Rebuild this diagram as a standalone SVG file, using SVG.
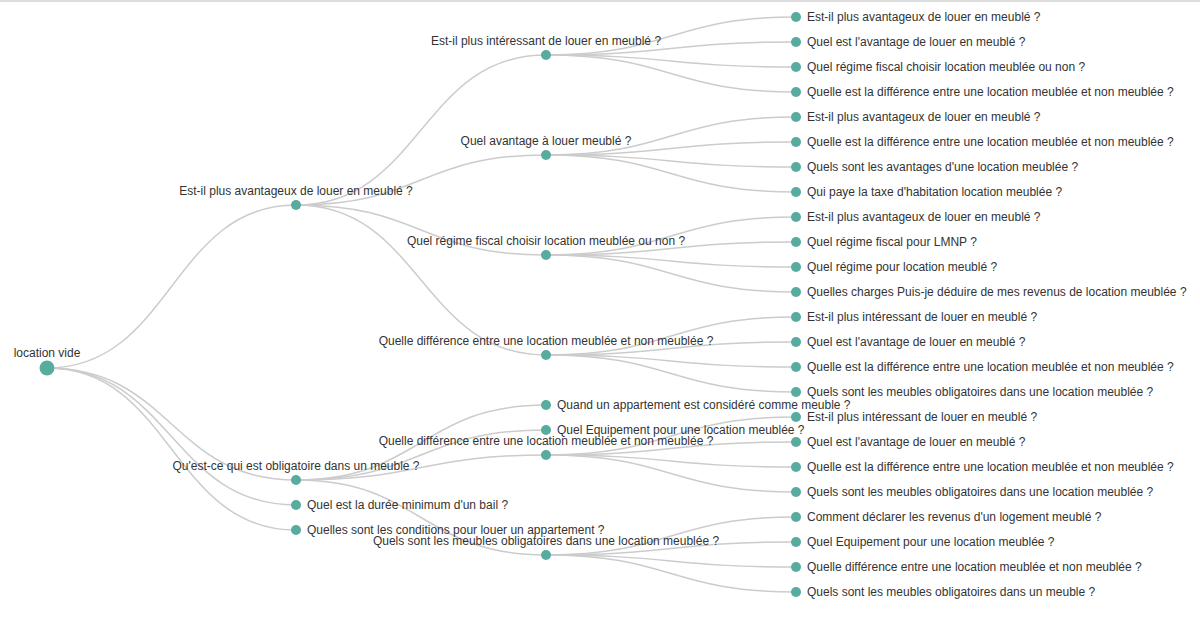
<svg xmlns="http://www.w3.org/2000/svg" width="1200" height="619" viewBox="0 0 1200 619">
<style>
.link{fill:none;stroke:#cccccc;stroke-width:1.5}
.node circle{fill:#57ab9f}
.node text{font-family:"Liberation Sans",Arial,sans-serif;font-size:12px;fill:#333}
.p text{text-anchor:middle}
</style>
<rect x="0" y="0" width="1200" height="619" fill="#fff"/>
<line x1="0" y1="1" x2="1200" y2="1" stroke="#dddddd" stroke-width="2"/>
<g id="links">
<path class="link" d="M47,368C171.5,368 171.5,205 296,205"/>
<path class="link" d="M47,368C171.5,368 171.5,480 296,480"/>
<path class="link" d="M47,368C171.5,368 171.5,505 296,505"/>
<path class="link" d="M47,368C171.5,368 171.5,530 296,530"/>
<path class="link" d="M296,205C421,205 421,55 546,55"/>
<path class="link" d="M296,205C421,205 421,155 546,155"/>
<path class="link" d="M296,205C421,205 421,255 546,255"/>
<path class="link" d="M296,205C421,205 421,355 546,355"/>
<path class="link" d="M296,480C421,480 421,405 546,405"/>
<path class="link" d="M296,480C421,480 421,430 546,430"/>
<path class="link" d="M296,480C421,480 421,455 546,455"/>
<path class="link" d="M296,480C421,480 421,555 546,555"/>
<path class="link" d="M546,55C671,55 671,17 796,17"/>
<path class="link" d="M546,55C671,55 671,42 796,42"/>
<path class="link" d="M546,55C671,55 671,67 796,67"/>
<path class="link" d="M546,55C671,55 671,92 796,92"/>
<path class="link" d="M546,155C671,155 671,117 796,117"/>
<path class="link" d="M546,155C671,155 671,142 796,142"/>
<path class="link" d="M546,155C671,155 671,167 796,167"/>
<path class="link" d="M546,155C671,155 671,192 796,192"/>
<path class="link" d="M546,255C671,255 671,217 796,217"/>
<path class="link" d="M546,255C671,255 671,242 796,242"/>
<path class="link" d="M546,255C671,255 671,267 796,267"/>
<path class="link" d="M546,255C671,255 671,292 796,292"/>
<path class="link" d="M546,355C671,355 671,317 796,317"/>
<path class="link" d="M546,355C671,355 671,342 796,342"/>
<path class="link" d="M546,355C671,355 671,367 796,367"/>
<path class="link" d="M546,355C671,355 671,392 796,392"/>
<path class="link" d="M546,455C671,455 671,417 796,417"/>
<path class="link" d="M546,455C671,455 671,442 796,442"/>
<path class="link" d="M546,455C671,455 671,467 796,467"/>
<path class="link" d="M546,455C671,455 671,492 796,492"/>
<path class="link" d="M546,555C671,555 671,517 796,517"/>
<path class="link" d="M546,555C671,555 671,542 796,542"/>
<path class="link" d="M546,555C671,555 671,567 796,567"/>
<path class="link" d="M546,555C671,555 671,592 796,592"/>
</g>
<g id="root" class="node p"><circle cx="47" cy="368" r="7.5"/><text x="47" y="357">location vide</text></g>
<g id="n-a" class="node p"><circle cx="296" cy="205" r="5"/><text x="296" y="195">Est-il plus avantageux de louer en meublé ?</text></g>
<g id="n-b" class="node p"><circle cx="296" cy="480" r="5"/><text x="296" y="470">Qu'est-ce qui est obligatoire dans un meuble ?</text></g>
<g id="n-c" class="node"><circle cx="296" cy="505" r="5"/><text x="307" y="509">Quel est la durée minimum d'un bail ?</text></g>
<g id="n-d" class="node"><circle cx="296" cy="530" r="5"/><text x="307" y="534">Quelles sont les conditions pour louer un appartement ?</text></g>
<g id="n-a1" class="node p"><circle cx="546" cy="55" r="5"/><text x="546" y="45">Est-il plus intéressant de louer en meublé ?</text></g>
<g id="n-a2" class="node p"><circle cx="546" cy="155" r="5"/><text x="546" y="145">Quel avantage à louer meublé ?</text></g>
<g id="n-a3" class="node p"><circle cx="546" cy="255" r="5"/><text x="546" y="245">Quel régime fiscal choisir location meublée ou non ?</text></g>
<g id="n-a4" class="node p"><circle cx="546" cy="355" r="5"/><text x="546" y="345">Quelle différence entre une location meublée et non meublée ?</text></g>
<g id="n-b1" class="node"><circle cx="546" cy="405" r="5"/><text x="557" y="409">Quand un appartement est considéré comme meuble ?</text></g>
<g id="n-b2" class="node"><circle cx="546" cy="430" r="5"/><text x="557" y="434">Quel Equipement pour une location meublée ?</text></g>
<g id="n-b3" class="node p"><circle cx="546" cy="455" r="5"/><text x="546" y="445">Quelle différence entre une location meublée et non meublée ?</text></g>
<g id="n-b4" class="node p"><circle cx="546" cy="555" r="5"/><text x="546" y="545">Quels sont les meubles obligatoires dans une location meublée ?</text></g>
<g id="n-a1-1" class="node"><circle cx="796" cy="17" r="5"/><text x="807" y="21">Est-il plus avantageux de louer en meublé ?</text></g>
<g id="n-a1-2" class="node"><circle cx="796" cy="42" r="5"/><text x="807" y="46">Quel est l'avantage de louer en meublé ?</text></g>
<g id="n-a1-3" class="node"><circle cx="796" cy="67" r="5"/><text x="807" y="71">Quel régime fiscal choisir location meublée ou non ?</text></g>
<g id="n-a1-4" class="node"><circle cx="796" cy="92" r="5"/><text x="807" y="96">Quelle est la différence entre une location meublée et non meublée ?</text></g>
<g id="n-a2-1" class="node"><circle cx="796" cy="117" r="5"/><text x="807" y="121">Est-il plus avantageux de louer en meublé ?</text></g>
<g id="n-a2-2" class="node"><circle cx="796" cy="142" r="5"/><text x="807" y="146">Quelle est la différence entre une location meublée et non meublée ?</text></g>
<g id="n-a2-3" class="node"><circle cx="796" cy="167" r="5"/><text x="807" y="171">Quels sont les avantages d'une location meublée ?</text></g>
<g id="n-a2-4" class="node"><circle cx="796" cy="192" r="5"/><text x="807" y="196">Qui paye la taxe d'habitation location meublée ?</text></g>
<g id="n-a3-1" class="node"><circle cx="796" cy="217" r="5"/><text x="807" y="221">Est-il plus avantageux de louer en meublé ?</text></g>
<g id="n-a3-2" class="node"><circle cx="796" cy="242" r="5"/><text x="807" y="246">Quel régime fiscal pour LMNP ?</text></g>
<g id="n-a3-3" class="node"><circle cx="796" cy="267" r="5"/><text x="807" y="271">Quel régime pour location meublé ?</text></g>
<g id="n-a3-4" class="node"><circle cx="796" cy="292" r="5"/><text x="807" y="296">Quelles charges Puis-je déduire de mes revenus de location meublée ?</text></g>
<g id="n-a4-1" class="node"><circle cx="796" cy="317" r="5"/><text x="807" y="321">Est-il plus intéressant de louer en meublé ?</text></g>
<g id="n-a4-2" class="node"><circle cx="796" cy="342" r="5"/><text x="807" y="346">Quel est l'avantage de louer en meublé ?</text></g>
<g id="n-a4-3" class="node"><circle cx="796" cy="367" r="5"/><text x="807" y="371">Quelle est la différence entre une location meublée et non meublée ?</text></g>
<g id="n-a4-4" class="node"><circle cx="796" cy="392" r="5"/><text x="807" y="396">Quels sont les meubles obligatoires dans une location meublée ?</text></g>
<g id="n-b3-1" class="node"><circle cx="796" cy="417" r="5"/><text x="807" y="421">Est-il plus intéressant de louer en meublé ?</text></g>
<g id="n-b3-2" class="node"><circle cx="796" cy="442" r="5"/><text x="807" y="446">Quel est l'avantage de louer en meublé ?</text></g>
<g id="n-b3-3" class="node"><circle cx="796" cy="467" r="5"/><text x="807" y="471">Quelle est la différence entre une location meublée et non meublée ?</text></g>
<g id="n-b3-4" class="node"><circle cx="796" cy="492" r="5"/><text x="807" y="496">Quels sont les meubles obligatoires dans une location meublée ?</text></g>
<g id="n-b4-1" class="node"><circle cx="796" cy="517" r="5"/><text x="807" y="521">Comment déclarer les revenus d'un logement meublé ?</text></g>
<g id="n-b4-2" class="node"><circle cx="796" cy="542" r="5"/><text x="807" y="546">Quel Equipement pour une location meublée ?</text></g>
<g id="n-b4-3" class="node"><circle cx="796" cy="567" r="5"/><text x="807" y="571">Quelle différence entre une location meublée et non meublée ?</text></g>
<g id="n-b4-4" class="node"><circle cx="796" cy="592" r="5"/><text x="807" y="596">Quels sont les meubles obligatoires dans un meuble ?</text></g>
</svg>
